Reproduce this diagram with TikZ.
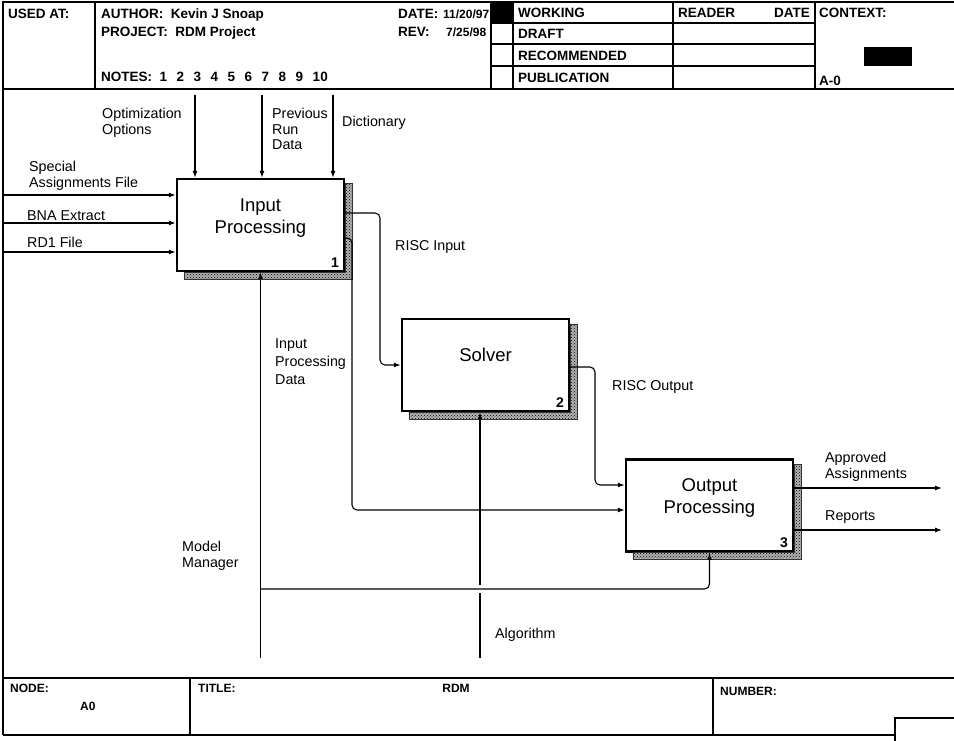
\documentclass[tikz,border=0pt]{standalone}
\usepackage{fontspec}
\setmainfont{Liberation Sans}
\usetikzlibrary{arrows,arrows.meta}
\usetikzlibrary{patterns,calc}
\tikzstyle{proc} = [draw, line width=2.4pt, minimum width=167pt, minimum height=92pt, inner sep=0pt]
\tikzstyle{ttl} = [font=\fontsize{18.5}{22}\selectfont, align=center, inner sep=0pt]
\tikzstyle{num} = [font=\bfseries\fontsize{14}{16}\selectfont, inner sep=0pt, anchor=south east]
\tikzstyle{lbl} = [font=\fontsize{14.3}{15.5}\selectfont, align=left, inner sep=0pt, anchor=north west]
\tikzstyle{hdr} = [font=\bfseries\fontsize{13.5}{16}\selectfont, inner sep=0pt, anchor=base west]
\tikzstyle{ftr} = [font=\bfseries\fontsize{12}{14}\selectfont, inner sep=0pt, anchor=base west]
\tikzstyle{frm} = [style={line width=1.2pt}]
\tikzstyle{shd} = [preaction={fill=black!30}, pattern=crosshatch dots, pattern color=black, draw=black!80, line width=0.6pt]
\tikzstyle{tuh} = [style={->,>={Latex[length=7pt,width=5pt]},line width=1.1pt,rounded corners=5pt}]
\tikzstyle{lin} = [style={line width=1.1pt}]

\begin{document}
\begin{tikzpicture}[x=1pt,y=-1pt]
        \useasboundingbox (0,0) rectangle (954,741);
        % header
        \draw[frm] (3,735) -- (3,2) -- (954,2);
        \draw[frm] (3,89) -- (954,89);
        \draw[frm] (95,2) -- (95,89);
        \draw[frm] (491,2) -- (491,89) (513,2) -- (513,89) (673,2) -- (673,89) (815,2) -- (815,89);
        \draw[frm] (491,23) -- (815,23) (491,44) -- (815,44) (491,66) -- (815,66);
        \fill (492,3) rectangle (512,22);
        \fill (864,47) rectangle (912,66);
        \node[hdr] (usedat) at (8,19) {USED AT:};
        \node[hdr] (author) at (101,19) {AUTHOR:\ \ Kevin J Snoap};
        \node[hdr] (project) at (101,37) {PROJECT:\ \ RDM Project};
        \node[hdr] (notes) at (101,82) {NOTES:\ \ 1\hspace{9.5pt}2\hspace{9.5pt}3\hspace{9.5pt}4\hspace{9.5pt}5\hspace{9.5pt}6\hspace{9.5pt}7\hspace{9.5pt}8\hspace{9.5pt}9\hspace{9.5pt}10};
        \node[hdr] (date) at (398,19) {DATE:};
        \node[hdr] (dateval) at (443,19) {\fontsize{12}{14}\selectfont 11/20/97};
        \node[hdr] (rev) at (398,37) {REV:};
        \node[hdr] (revval) at (446,37) {\fontsize{12}{14}\selectfont 7/25/98};
        \node[hdr] (working) at (518,18) {WORKING};
        \node[hdr] (draft) at (518,39) {DRAFT};
        \node[hdr] (recom) at (518,60.5) {RECOMMENDED};
        \node[hdr] (publ) at (518,82.5) {PUBLICATION};
        \node[hdr] (reader) at (678,18) {READER};
        \node[hdr, anchor=base east] (rdate) at (810,18) {DATE};
        \node[hdr] (context) at (819,18) {CONTEXT:};
        \node[hdr] (actx) at (819,86) {A-0};
        % boxes
        \node[proc] (ip) at (260.5,225) {};
        \node[proc] (sv) at (485.5,365) {};
        \node[proc] (op) at (709.5,505.5) {};
        \node[ttl] (ipt) at ($(ip.center)+(0,-7)$) {Input\\Processing};
        \node[ttl] (svt) at ($(sv.center)+(0,-10)$) {Solver};
        \node[ttl] (opt) at ($(op.center)+(0,-8)$) {Output\\Processing};
        \node[num] (ipn) at ($(ip.south east)+(-6,-5)$) {1};
        \node[num] (svn) at ($(sv.south east)+(-6,-5)$) {2};
        \node[num] (opn) at ($(op.south east)+(-6,-5)$) {3};
        \fill[shd] ($(ip.north east)+(0,6)$) -- ++(7,0) -- ($(ip.south east)+(7,7)$) -- ($(ip.south west)+(8,7)$) -- ($(ip.south west)+(8,0)$) -- (ip.south east) -- cycle;
        \fill[shd] ($(sv.north east)+(0,6)$) -- ++(7,0) -- ($(sv.south east)+(7,7)$) -- ($(sv.south west)+(8,7)$) -- ($(sv.south west)+(8,0)$) -- (sv.south east) -- cycle;
        \fill[shd] ($(op.north east)+(0,6)$) -- ++(7,0) -- ($(op.south east)+(7,7)$) -- ($(op.south west)+(8,7)$) -- ($(op.south west)+(8,0)$) -- (op.south east) -- cycle;
        % inputs and controls
        \coordinate (sa) at (3,195);
        \coordinate (bna) at (3,223);
        \coordinate (rd) at (3,252);
        \coordinate (oo) at (195,95);
        \coordinate (prd) at (262,95);
        \coordinate (dic) at (333,95);
        \draw[tuh] (sa) -- (sa -| ip.west);
        \draw[tuh] (bna) -- (bna -| ip.west);
        \draw[tuh] (rd) -- (rd -| ip.west);
        \draw[tuh] (oo) -- (oo |- ip.north);
        \draw[tuh] (prd) -- (prd |- ip.north);
        \draw[tuh] (dic) -- (dic |- ip.north);
        \node[lbl] (oolbl) at (102,108) {Optimization\\Options};
        \node[lbl] (prdlbl) at (272,108) {Previous\\Run\\Data};
        \node[lbl] (diclbl) at (342,116) {Dictionary};
        \node[lbl] (salbl) at (29,161) {Special\\Assignments File};
        \node[lbl] (bnalbl) at (27,210) {BNA Extract};
        \node[lbl] (rdlbl) at (27,237) {RD1 File};
        % flows between boxes
        \draw[tuh] ([yshift=12pt]ip.east) -- (380,213) -- (380,365) -- (sv.west);
        \draw[tuh] ([yshift=-13pt]ip.east) -- (352,238) -- (352,510) -- ([yshift=-4.5pt]op.west);
        \draw[tuh] ([yshift=-2pt]sv.east) -- (595,367) -- (595,485) -- ([yshift=20.5pt]op.west);
        \node[lbl] (rilbl) at (395,240) {RISC Input};
        \node[lbl, font=\fontsize{14.3}{18}\selectfont] (ipdlbl) at (275,338) {Input\\Processing\\Data};
        \node[lbl] (rolbl) at (612,380) {RISC Output};
        % outputs
        \coordinate (aa) at (942,488);
        \coordinate (rep) at (942,530);
        \draw[tuh] (op.east |- aa) -- (aa);
        \draw[tuh] (op.east |- rep) -- (rep);
        \node[lbl] (aalbl) at (825,452) {Approved\\Assignments};
        \node[lbl] (replbl) at (825,510) {Reports};
        % mechanisms
        \coordinate (mm) at (260.5,658);
        \coordinate (mmj) at (260.5,589);
        \draw[tuh] (mm) -- (ip.south);
        \draw[tuh] (mmj) -| (op.south);
        \coordinate (alg) at (480,658);
        \coordinate (algj) at (480,593);
        \coordinate (algk) at (480,585);
        \draw[lin] (alg) -- (algj);
        \draw[tuh] (algk) -- (algk |- sv.south);
        \node[lbl] (mmlbl) at (182,541) {Model\\Manager};
        \node[lbl] (alglbl) at (495,628) {Algorithm};
        % footer
        \draw[frm] (3,678) -- (954,678);
        \draw[frm] (190,678) -- (190,735) (713,678) -- (713,735);
        \draw[frm] (3,735) -- (895,735);
        \draw[frm] (954,718) -- (895,718) -- (895,741);
        \node[ftr] (node) at (10,692) {NODE:};
        \node[ftr] (nodeval) at (80,710) {A0};
        \node[ftr] (title) at (198,692) {TITLE:};
        \node[ftr, anchor=base] (titleval) at (456,692) {RDM};
        \node[ftr] (number) at (720,695) {NUMBER:};
\end{tikzpicture}
\end{document}
